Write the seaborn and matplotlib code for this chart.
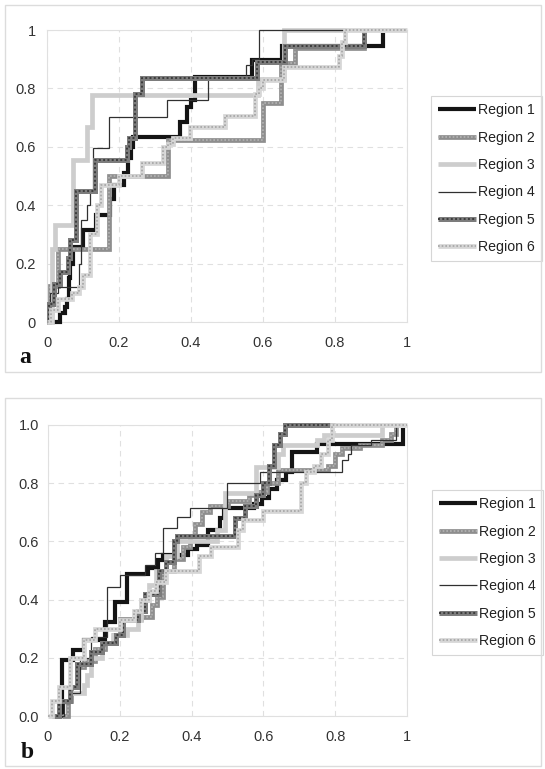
import matplotlib
matplotlib.use("Agg")
import matplotlib.pyplot as plt
from matplotlib.patches import Rectangle
import seaborn as sns

# ---------------- data ----------------
labels = ["Region 1", "Region 2", "Region 3", "Region 4", "Region 5", "Region 6"]
x_ticks = [0, 0.2, 0.4, 0.6, 0.8, 1]
x_tick_labels = ["0", "0.2", "0.4", "0.6", "0.8", "1"]
y_tick_labels_a = ["0", "0.2", "0.4", "0.6", "0.8", "1"]
y_tick_labels_b = ["0.0", "0.2", "0.4", "0.6", "0.8", "1.0"]

# panel a
a1_x = [0.016, 0.036, 0.05, 0.055, 0.06, 0.065, 0.072, 0.1, 0.135, 0.175, 0.185, 0.215, 0.225, 0.232, 0.24, 0.37, 0.39, 0.40, 0.41, 0.57, 0.652, 0.934]
a1_y = [0.0, 0.03, 0.05, 0.08, 0.15, 0.2, 0.258, 0.315, 0.366, 0.42, 0.47, 0.51, 0.56, 0.6, 0.632, 0.686, 0.737, 0.76, 0.84, 0.897, 0.945, 0.99]
a2_x = [0.0, 0.008, 0.03, 0.172, 0.336, 0.6, 0.65, 0.69, 0.88]
a2_y = [0.0, 0.125, 0.25, 0.5, 0.625, 0.75, 0.887, 0.94, 1.0]
a3_x = [0.0, 0.015, 0.022, 0.072, 0.11, 0.125, 0.585, 0.657, 0.83]
a3_y = [0.0, 0.25, 0.333, 0.556, 0.667, 0.778, 0.833, 1.0, 1.0]
a4_x = [0.0, 0.008, 0.03, 0.088, 0.095, 0.11, 0.12, 0.129, 0.172, 0.332, 0.448, 0.553, 0.57, 0.59, 0.828]
a4_y = [0.0, 0.1, 0.12, 0.2, 0.35, 0.4, 0.45, 0.595, 0.703, 0.76, 0.84, 0.88, 0.9, 1.0, 1.0]
a5_x = [0.0, 0.005, 0.02, 0.035, 0.058, 0.065, 0.08, 0.133, 0.221, 0.228, 0.245, 0.263, 0.583, 0.66, 0.88]
a5_y = [0.0, 0.06, 0.13, 0.17, 0.22, 0.28, 0.45, 0.555, 0.6, 0.63, 0.78, 0.835, 0.89, 0.945, 1.0]
a6_x = [0.0, 0.01, 0.03, 0.07, 0.09, 0.1, 0.12, 0.14, 0.15, 0.2, 0.264, 0.322, 0.335, 0.35, 0.397, 0.494, 0.578, 0.59, 0.6, 0.657, 0.81, 0.82, 0.828, 1.0]
a6_y = [0.0, 0.04, 0.08, 0.1, 0.12, 0.16, 0.3, 0.4, 0.47, 0.5, 0.544, 0.6, 0.61, 0.63, 0.669, 0.705, 0.78, 0.8, 0.83, 0.873, 0.91, 0.96, 1.0, 1.0]

# panel b
b1_x = [0.024, 0.038, 0.07, 0.1, 0.159, 0.187, 0.219, 0.279, 0.306, 0.32, 0.39, 0.415, 0.445, 0.478, 0.49, 0.575, 0.597, 0.615, 0.637, 0.662, 0.681, 0.75, 0.99]
b1_y = [0.0, 0.192, 0.226, 0.261, 0.324, 0.393, 0.487, 0.51, 0.535, 0.553, 0.575, 0.587, 0.64, 0.68, 0.714, 0.73, 0.75, 0.78, 0.81, 0.84, 0.906, 0.935, 0.99]
b2_x = [0.04, 0.055, 0.065, 0.08, 0.1, 0.13, 0.16, 0.185, 0.2, 0.26, 0.29, 0.305, 0.32, 0.35, 0.375, 0.395, 0.41, 0.43, 0.45, 0.5, 0.56, 0.59, 0.61, 0.64, 0.78, 0.8, 0.82, 0.87, 0.93, 0.955, 0.97]
b2_y = [0.0, 0.05, 0.1, 0.17, 0.19, 0.23, 0.25, 0.28, 0.335, 0.34, 0.38, 0.41, 0.5, 0.54, 0.58, 0.62, 0.66, 0.7, 0.72, 0.74, 0.76, 0.77, 0.8, 0.845, 0.86, 0.9, 0.92, 0.93, 0.95, 0.97, 1.0]
b3_x = [0.01, 0.03, 0.06, 0.1, 0.11, 0.12, 0.15, 0.18, 0.22, 0.25, 0.26, 0.28, 0.3, 0.33, 0.36, 0.47, 0.494, 0.58, 0.64, 0.654, 0.75, 0.77, 0.93]
b3_y = [0.0, 0.05, 0.08, 0.106, 0.14, 0.2, 0.25, 0.28, 0.3, 0.33, 0.4, 0.45, 0.5, 0.55, 0.6, 0.64, 0.765, 0.857, 0.9, 0.931, 0.95, 0.966, 1.0]
b4_x = [0.03, 0.045, 0.061, 0.089, 0.12, 0.163, 0.2, 0.27, 0.298, 0.32, 0.36, 0.395, 0.498, 0.59, 0.82, 0.835, 0.845, 0.9, 0.97]
b4_y = [0.0, 0.045, 0.079, 0.2, 0.27, 0.445, 0.485, 0.52, 0.56, 0.646, 0.685, 0.714, 0.8, 0.84, 0.88, 0.9, 0.93, 0.95, 1.0]
b5_x = [0.01, 0.03, 0.06, 0.08, 0.12, 0.15, 0.19, 0.21, 0.25, 0.27, 0.31, 0.33, 0.35, 0.36, 0.52, 0.55, 0.58, 0.6, 0.615, 0.63, 0.645, 0.66, 0.8]
b5_y = [0.0, 0.05, 0.1, 0.18, 0.22, 0.25, 0.28, 0.33, 0.36, 0.42, 0.5, 0.53, 0.6, 0.62, 0.68, 0.72, 0.76, 0.8, 0.86, 0.93, 0.97, 1.0, 1.0]
b6_x = [0.0, 0.01, 0.03, 0.06, 0.1, 0.13, 0.2, 0.24, 0.26, 0.28, 0.3, 0.33, 0.42, 0.455, 0.53, 0.543, 0.6, 0.705, 0.72, 0.74, 0.76, 0.78, 0.79, 1.0]
b6_y = [0.0, 0.05, 0.1, 0.2, 0.26, 0.3, 0.33, 0.36, 0.4, 0.43, 0.46, 0.5, 0.55, 0.582, 0.64, 0.674, 0.705, 0.8, 0.84, 0.86, 0.9, 0.95, 1.0, 1.0]

panel_a = [(a1_x, a1_y), (a2_x, a2_y), (a3_x, a3_y), (a4_x, a4_y), (a5_x, a5_y), (a6_x, a6_y)]
panel_b = [(b1_x, b1_y), (b2_x, b2_y), (b3_x, b3_y), (b4_x, b4_y), (b5_x, b5_y), (b6_x, b6_y)]

# ---------------- styles ----------------
styles = [
    dict(c="#141414", lw=3.0),
    dict(c="#8e8e8e", lw=3.4, oc="#b4b4b4", olw=1.2),
    dict(c="#cdcdcd", lw=3.4),
    dict(c="#303030", lw=0.9),
    dict(c="#7c7c7c", lw=3.6, oc="#3c3c3c", olw=1.4),
    dict(c="#d6d6d6", lw=3.4, oc="#a4a4a4", olw=1.2),
]

sns.set_theme(style="white")
plt.rcParams["font.family"] = ["Liberation Sans", "DejaVu Sans"]

W, H = 545, 769
fig = plt.figure(figsize=(W / 100, H / 100), dpi=100)


def fx(px):
    return px / W


def fy(py):
    return 1 - py / H


def draw_panel(ax, data, ylabels, ypad):
    handles = []
    for i, ((xs, ys), st) in enumerate(zip(data, styles)):
        sns.lineplot(x=xs, y=ys, ax=ax, drawstyle="steps-post", estimator=None,
                     sort=False, color=st["c"], linewidth=st["lw"], zorder=3 + i,
                     clip_on=False, solid_capstyle="butt", solid_joinstyle="miter")
        h = [ax.lines[-1]]
        if "oc" in st:
            sns.lineplot(x=xs, y=ys, ax=ax, drawstyle="steps-post", estimator=None,
                         sort=False, color=st["oc"], linewidth=st["olw"],
                         linestyle=(0, (1, 1.2)), zorder=3 + i + 0.5, clip_on=False)
            h.append(ax.lines[-1])
        handles.append(tuple(h))
    ax.set_xlim(0, 1)
    ax.set_ylim(0, 1)
    ax.set_xticks(x_ticks)
    ax.set_xticklabels(x_tick_labels)
    ax.set_yticks(x_ticks)
    ax.set_yticklabels(ylabels)
    ax.set_xlabel("")
    ax.set_ylabel("")
    ax.grid(True, linestyle=(0, (5, 4)), color="#e0e0e0", linewidth=0.8)
    for s in ax.spines.values():
        s.set_visible(True)
        s.set_color("#e0e0e0")
        s.set_linewidth(0.8)
    ax.tick_params(axis="both", length=0, labelsize=10.5, colors="#333333")
    ax.tick_params(axis="x", pad=10)
    ax.tick_params(axis="y", pad=ypad)
    return handles


# panel a
ax_a = fig.add_axes([fx(47), fy(322), (407 - 47) / W, (322 - 30) / H])
ha = draw_panel(ax_a, panel_a, y_tick_labels_a, 8)
# panel b
ax_b = fig.add_axes([fx(48), fy(716), (407 - 48) / W, (716 - 425) / H])
hb = draw_panel(ax_b, panel_b, y_tick_labels_b, 6.5)

for ax, hs, (lx, ly) in [(ax_a, ha, (431, 96)), (ax_b, hb, (432, 490))]:
    leg = ax.legend(hs, labels, loc="upper left", bbox_to_anchor=(fx(lx), fy(ly)),
                    bbox_transform=fig.transFigure, borderaxespad=0, frameon=True,
                    fancybox=False, edgecolor="#cccccc", handlelength=2.7,
                    handletextpad=0.1, labelspacing=0.95, borderpad=0.5,
                    fontsize=10.2)
    leg.get_frame().set_linewidth(0.8)
    for t in leg.get_texts():
        t.set_color("#222222")

# panel labels
fig.text(fx(19), fy(363), "a", fontsize=17, fontweight="bold",
         family=["Liberation Serif", "DejaVu Serif"], color="#111111", va="baseline")
fig.text(fx(21), fy(758), "b", fontsize=17, fontweight="bold",
         family=["Liberation Serif", "DejaVu Serif"], color="#111111", va="baseline")

# outer panel frames
for (y0, y1) in [(5, 372), (398, 766)]:
    fig.add_artist(Rectangle((fx(5), fy(y1)), (541 - 5) / W, (y1 - y0) / H,
                             transform=fig.transFigure, fill=False,
                             edgecolor="#dcdcdc", linewidth=1.0))

fig.savefig("out.png", dpi=100)
